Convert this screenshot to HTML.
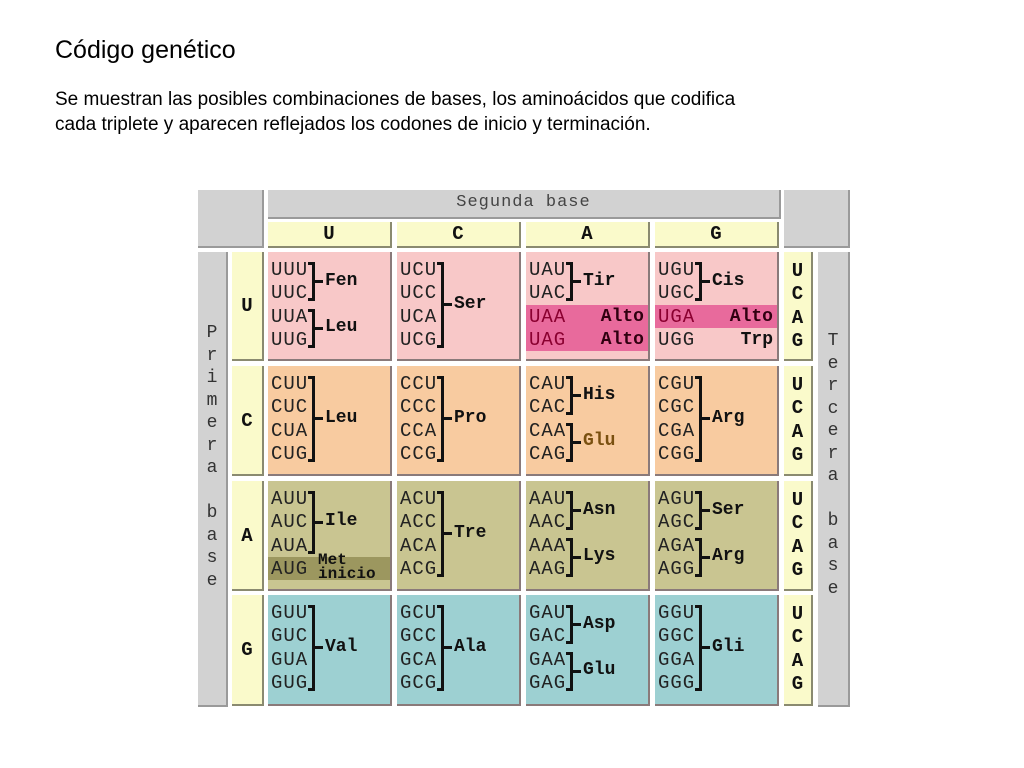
<!DOCTYPE html>
<html><head><meta charset="utf-8">
<style>
body{margin:0;width:1024px;height:768px;background:#fff;position:relative;overflow:hidden;font-family:"Liberation Sans",sans-serif}
.abs{position:absolute}
.gray{background:#d2d2d2;border-right:2px solid #9a9a9a;border-bottom:2px solid #9a9a9a;box-sizing:border-box}
.yel{background:#fafacb;border-right:2px solid #8a8a70;border-bottom:2px solid #8a8a70;box-sizing:border-box}
.cell{box-sizing:border-box;border-right:2px solid #8a7a7a;border-bottom:2px solid #8a7a7a}
.mono{font-family:"Liberation Mono",monospace}
.cod{position:absolute;font-family:"Liberation Mono",monospace;font-size:19px;letter-spacing:1px;color:#222;line-height:20px}
.aa{position:absolute;font-family:"Liberation Mono",monospace;font-size:18px;font-weight:bold;color:#111;line-height:20px}
.hd{font-family:"Liberation Mono",monospace;font-weight:bold;font-size:19px;color:#111;text-align:center}
</style></head><body>
<div class="abs" style="left:55px;top:36px;font-size:25px;color:#000">Código genético</div>
<div class="abs" style="left:55px;top:87px;font-size:19px;line-height:25px;color:#000">Se muestran las posibles combinaciones de bases, los aminoácidos que codifica<br>cada triplete y aparecen reflejados los codones de inicio y terminación.</div>
<div id="chart"></div>
<script>
const bases=["U","C","A","G"];
const colX=[268,397,526,655];const colW=124;
const rowY=[252,366,481,595];const rowH=[109,110,110,111];
const rowColors=["#f8c8c8","#f8cba0","#c9c591","#9dd0d2"];
const groups={
"UU":[[0,1,"Fen"],[2,3,"Leu"]],"UC":[[0,3,"Ser"]],"UA":[[0,1,"Tir"]],"UG":[[0,1,"Cis"]],
"CU":[[0,3,"Leu"]],"CC":[[0,3,"Pro"]],"CA":[[0,1,"His"],[2,3,"Glu"]],"CG":[[0,3,"Arg"]],
"AU":[[0,2,"Ile"]],"AC":[[0,3,"Tre"]],"AA":[[0,1,"Asn"],[2,3,"Lys"]],"AG":[[0,1,"Ser"],[2,3,"Arg"]],
"GU":[[0,3,"Val"]],"GC":[[0,3,"Ala"]],"GA":[[0,1,"Asp"],[2,3,"Glu"]],"GG":[[0,3,"Gli"]]};
const specials={"UAA":"Alto","UAG":"Alto","UGA":"Alto","UGG":"Trp","AUG":"Met"};
const root=document.getElementById('chart');
function box(x,y,w,h,cls,st){const d=document.createElement('div');d.className='abs '+(cls||'');d.style.cssText=`left:${x}px;top:${y}px;width:${w}px;height:${h}px;`+(st||'');root.appendChild(d);return d;}
let d;
d=box(198,190,66,58,'gray');


d=box(784,190,66,58,'gray');


d=box(268,190,513,29,'gray','font-family:"Liberation Mono",monospace;font-size:17px;color:#444;text-align:center;line-height:25px;letter-spacing:1px');
d.textContent='Segunda base';


d=box(198,252,30,455,'gray','font-family:"Liberation Mono",monospace;font-size:18px;color:#333;text-align:center;line-height:22.5px;padding-top:70px');
d.innerHTML='P<br>r<br>i<br>m<br>e<br>r<br>a<br><br>b<br>a<br>s<br>e';


d=box(818,252,32,455,'gray','font-family:"Liberation Mono",monospace;font-size:18px;color:#333;text-align:center;line-height:22.5px;padding-top:78px');
d.innerHTML='T<br>e<br>r<br>c<br>e<br>r<br>a<br><br>b<br>a<br>s<br>e';


bases.forEach((b,i)=>{
  d=box(colX[i],222,colW,26,'yel hd','line-height:24px');
  d.textContent=b;
  
  
});
bases.forEach((r,ri)=>{
  const y=rowY[ri],h=rowH[ri];
  d=box(232,y,32,h,'yel hd',`line-height:${h}px`);
  d.textContent=r;
  
  
  d=box(784,y,29,h,'yel hd','line-height:23.3px;padding-top:8px');
  d.innerHTML='U<br>C<br>A<br>G';
  
  
  bases.forEach((c,ci)=>{
    const x=colX[ci];
    const cell=box(x,y,colW,h,'cell',`background:${rowColors[ri]}`);
    
    
    const lineY=k=>8+k*23.3;
    bases.forEach((t,k)=>{
      const codon=r+c+t;const sp=specials[codon];
      if(sp==="Alto"||sp==="Met"){
        const hl=document.createElement('div');hl.className='abs';
        hl.style.cssText=`left:0;top:${lineY(k)-2}px;width:122px;height:23px;background:${sp==="Alto"?"#e86a9c":"#9c975f"}`;
        
        
        cell.appendChild(hl);
      }
      const s=document.createElement('div');s.className='cod';
      s.style.cssText=`left:3px;top:${lineY(k)}px;`+(sp==="Alto"?"color:#8a0030":"");
      s.textContent=codon;
      
      
      cell.appendChild(s);
      if(sp){
        const a=document.createElement('div');a.className='aa';
        if(sp==="Met"){a.style.cssText=`left:50px;top:${lineY(k)-6}px;font-size:16px;line-height:14px`;a.innerHTML='Met<br>inicio';}
        else{a.style.cssText=`right:4px;top:${lineY(k)}px;`+(sp==="Alto"?"color:#300010":"");a.textContent=sp;}
        
        
        cell.appendChild(a);
      }
    });
    groups[r+c].forEach(g=>{
      const top=lineY(g[0])+2,bot=lineY(g[1])+18;
      const br=document.createElement('div');br.className='abs';
      br.style.cssText=`left:40px;top:${top}px;width:7px;height:${bot-top}px;border:3px solid #111;border-left:none;box-sizing:border-box`;
      
      
      cell.appendChild(br);
      const tk=document.createElement('div');tk.className='abs';
      tk.style.cssText=`left:47px;top:${(top+bot)/2-1.5}px;width:8px;height:3px;background:#111`;
      
      
      cell.appendChild(tk);
      const a=document.createElement('div');a.className='aa';
      a.style.cssText=`left:57px;top:${(top+bot)/2-11}px;`+(g[2]==="Glu"&&r==="C"?"color:#7a5010":"");
      a.textContent=g[2];
      
      
      cell.appendChild(a);
    });
  });
});
</script>
</body></html>
